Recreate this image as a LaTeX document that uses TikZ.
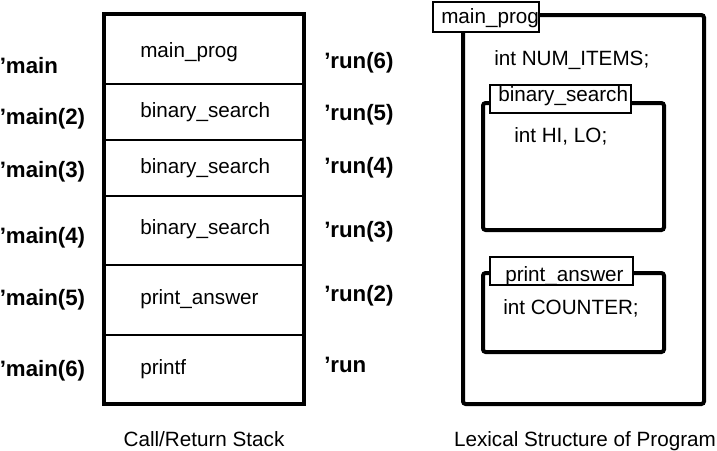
\documentclass[tikz,border=0pt]{standalone}
\usepackage{fontspec}
\setmainfont{Liberation Sans}
\begin{document}
\begin{tikzpicture}[x=0.75pt,y=-0.75pt,
  txt/.style={anchor=base west,inner sep=0pt,font=\fontsize{15.5}{18}\selectfont},
  lbl/.style={anchor=base west,inner sep=0pt,font=\fontsize{16.7}{19}\selectfont\bfseries},
  captxt/.style={anchor=base,inner sep=0pt,font=\fontsize{15.5}{18}\selectfont},
  outer/.style={line width=3pt},
  divider/.style={line width=2pt},
  frame/.style={line width=3pt,rounded corners=2pt},
  tagbox/.style={draw,fill=white,line width=1.5pt}]
\useasboundingbox (0,0) rectangle (717,450);
% ---- call/return stack ----
\draw[outer] (104,14) rectangle (304,404);
\foreach \yy in {84,140,196,265,335} \draw[divider] (104,\yy) -- (304,\yy);
\node[txt] (s1) at (140,57) {main\_prog};
\node[txt] (s2) at (140,117) {binary\_search};
\node[txt] (s3) at (140,173) {binary\_search};
\node[txt] (s4) at (140,234) {binary\_search};
\node[txt] (s5) at (140,304) {print\_answer};
\node[txt] (s6) at (140,374) {printf};
\node[lbl] (m1) at (-0.5,73) {'main};
\node[lbl] (m2) at (-0.5,124) {'main(2)};
\node[lbl] (m3) at (-0.5,177) {'main(3)};
\node[lbl] (m4) at (-0.5,243) {'main(4)};
\node[lbl] (m5) at (-0.5,305) {'main(5)};
\node[lbl] (m6) at (-0.5,376) {'main(6)};
\node[lbl] (r6) at (324,68) {'run(6)};
\node[lbl] (r5) at (324,120) {'run(5)};
\node[lbl] (r4) at (324,173) {'run(4)};
\node[lbl] (r3) at (324,237) {'run(3)};
\node[lbl] (r2) at (324,301) {'run(2)};
\node[lbl] (r1) at (324,372) {'run};
\node[captxt] (c1) at (204,446) {Call/Return Stack};
% ---- lexical structure ----
\draw[frame] (463,15) rectangle (704,404);
\draw[frame] (483,103) rectangle (664,230);
\draw[frame] (483,273) rectangle (664,352);
\draw[tagbox] (433,2) rectangle (539,32);
\draw[tagbox] (490,85) rectangle (631,113);
\draw[tagbox] (490,257) rectangle (633,285);
\node[txt] (t1) at (441,23) {main\_prog};
\node[txt] (t2) at (498,101) {binary\_search};
\node[txt] (t3) at (505,281) {print\_answer};
\node[txt] (v1) at (494,65) {int NUM\_ITEMS;};
\node[txt] (v2) at (514,142) {int HI, LO;};
\node[txt] (v3) at (503,314) {int COUNTER;};
\node[captxt] (c2) at (585,446) {Lexical Structure of Program};
\end{tikzpicture}
\end{document}
